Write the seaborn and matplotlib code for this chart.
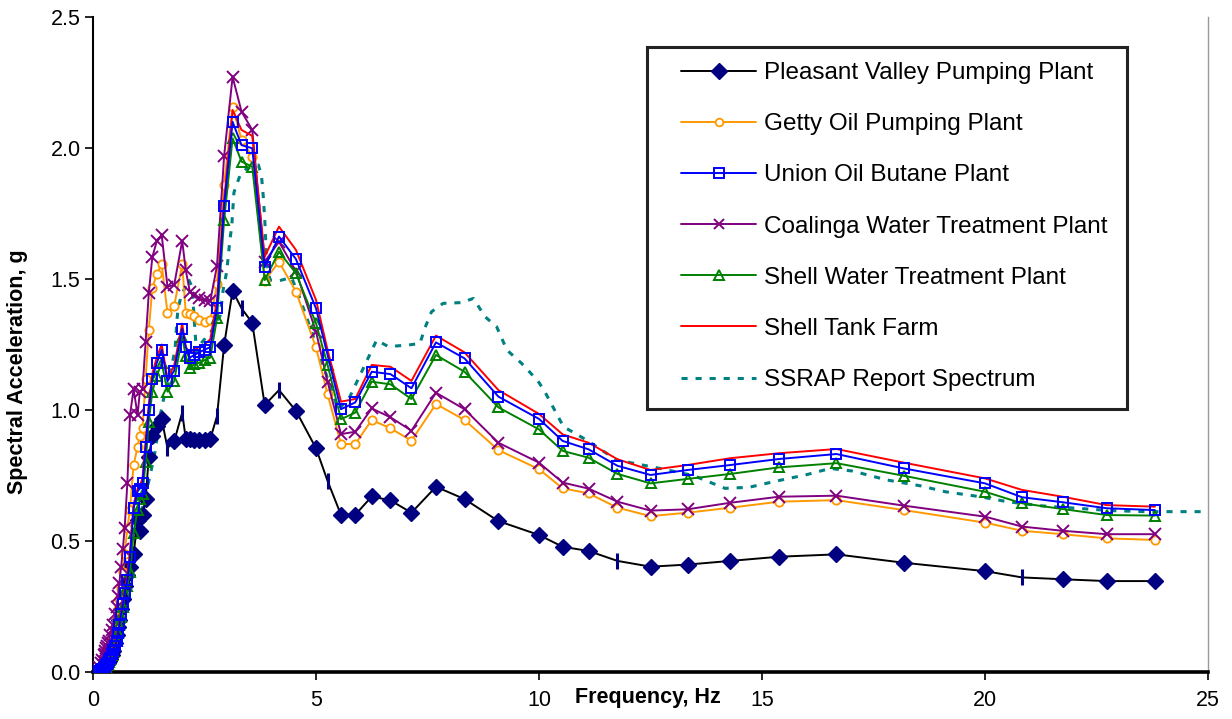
import matplotlib
matplotlib.use("Agg")
import matplotlib.pyplot as plt
import seaborn as sns
from matplotlib.lines import Line2D
from matplotlib.patches import Rectangle

# ---------------- data ----------------
freq = [0.10, 0.13, 0.17, 0.20, 0.25, 0.26, 0.28, 0.29, 0.31, 0.33,
        0.36, 0.38, 0.42, 0.45, 0.50, 0.53, 0.56, 0.59, 0.63, 0.67,
        0.71, 0.77, 0.83, 0.91, 1.00, 1.05, 1.11, 1.18, 1.25, 1.33,
        1.43, 1.54, 1.67, 1.82, 2.00, 2.08, 2.17, 2.27, 2.38, 2.50,
        2.63, 2.78, 2.94, 3.13, 3.33, 3.57, 3.85, 4.17, 4.55, 5.00,
        5.26, 5.56, 5.88, 6.25, 6.67, 7.14, 7.69, 8.33, 9.09, 10.00,
        10.53, 11.11, 11.76, 12.50, 13.33, 14.29, 15.38, 16.67, 18.18, 20.00,
        20.83, 21.74, 22.73, 23.81]

pleasant_valley = [0.005, 0.008, 0.010, 0.012, 0.018, 0.020, 0.023, 0.026, 0.030, 0.035,
                   0.042, 0.050, 0.065, 0.080, 0.110, 0.140, 0.170, 0.200, 0.240, 0.280,
                   0.330, 0.370, 0.400, 0.450, 0.580, 0.540, 0.600, 0.660, 0.820, 0.900,
                   0.940, 0.965, 0.855, 0.880, 0.990, 0.890, 0.890, 0.885, 0.885, 0.885,
                   0.890, 0.976, 1.248, 1.455, 1.388, 1.333, 1.019, 1.076, 0.997, 0.854,
                   0.729, 0.600, 0.600, 0.670, 0.655, 0.608, 0.707, 0.660, 0.576, 0.523,
                   0.478, 0.462, 0.424, 0.402, 0.410, 0.424, 0.440, 0.449, 0.417, 0.385,
                   0.361, 0.354, 0.347, 0.347]

getty_oil = [0.005, 0.010, 0.015, 0.020, 0.030, 0.035, 0.040, 0.045, 0.050, 0.060,
             0.080, 0.090, 0.110, 0.130, 0.170, 0.200, 0.240, 0.280, 0.320, 0.380,
             0.450, 0.550, 0.620, 0.790, 0.860, 0.900, 0.930, 1.120, 1.305, 1.464,
             1.519, 1.557, 1.371, 1.397, 1.557, 1.370, 1.365, 1.360, 1.345, 1.335,
             1.345, 1.480, 1.860, 2.158, 2.031, 1.967, 1.494, 1.566, 1.452, 1.239,
             1.060, 0.870, 0.870, 0.962, 0.930, 0.883, 1.023, 0.962, 0.847, 0.774,
             0.701, 0.682, 0.627, 0.595, 0.608, 0.627, 0.650, 0.656, 0.618, 0.570,
             0.539, 0.526, 0.510, 0.504]

union_oil = [0.003, 0.005, 0.008, 0.010, 0.015, 0.018, 0.020, 0.025, 0.030, 0.035,
             0.045, 0.055, 0.070, 0.085, 0.100, 0.120, 0.150, 0.180, 0.220, 0.260,
             0.300, 0.350, 0.440, 0.625, 0.690, 0.700, 0.720, 0.860, 1.000, 1.120,
             1.180, 1.230, 1.110, 1.150, 1.310, 1.240, 1.200, 1.210, 1.220, 1.230,
             1.240, 1.390, 1.780, 2.100, 2.011, 1.999, 1.545, 1.662, 1.576, 1.388,
             1.210, 1.003, 1.029, 1.146, 1.137, 1.083, 1.258, 1.197, 1.051, 0.966,
             0.882, 0.850, 0.787, 0.752, 0.771, 0.790, 0.813, 0.832, 0.777, 0.720,
             0.667, 0.648, 0.625, 0.618]

coalinga = [0.010, 0.020, 0.035, 0.045, 0.065, 0.070, 0.080, 0.090, 0.100, 0.110,
            0.120, 0.140, 0.160, 0.180, 0.220, 0.250, 0.290, 0.340, 0.400, 0.470,
            0.550, 0.720, 0.980, 1.080, 0.980, 1.070, 1.080, 1.260, 1.445, 1.583,
            1.645, 1.668, 1.471, 1.477, 1.645, 1.534, 1.452, 1.439, 1.426, 1.420,
            1.417, 1.550, 1.970, 2.272, 2.139, 2.069, 1.566, 1.642, 1.530, 1.299,
            1.108, 0.908, 0.917, 1.006, 0.972, 0.921, 1.066, 1.003, 0.875, 0.799,
            0.723, 0.700, 0.650, 0.616, 0.621, 0.646, 0.669, 0.673, 0.635, 0.593,
            0.555, 0.539, 0.526, 0.526]

shell_water = [0.002, 0.004, 0.006, 0.008, 0.010, 0.012, 0.015, 0.020, 0.025, 0.030,
               0.040, 0.050, 0.065, 0.080, 0.100, 0.120, 0.150, 0.180, 0.210, 0.250,
               0.300, 0.330, 0.380, 0.530, 0.620, 0.660, 0.680, 0.800, 0.955, 1.070,
               1.130, 1.180, 1.070, 1.110, 1.280, 1.206, 1.160, 1.175, 1.180, 1.190,
               1.200, 1.350, 1.725, 2.037, 1.948, 1.929, 1.496, 1.604, 1.522, 1.331,
               1.172, 0.965, 0.990, 1.108, 1.098, 1.042, 1.210, 1.146, 1.010, 0.926,
               0.844, 0.818, 0.756, 0.720, 0.737, 0.756, 0.781, 0.797, 0.749, 0.688,
               0.644, 0.622, 0.599, 0.597]

shell_tank = [0.003, 0.005, 0.008, 0.010, 0.015, 0.018, 0.020, 0.025, 0.030, 0.035,
              0.045, 0.055, 0.070, 0.090, 0.110, 0.130, 0.160, 0.190, 0.230, 0.270,
              0.310, 0.370, 0.460, 0.640, 0.700, 0.710, 0.740, 0.880, 1.020, 1.140,
              1.200, 1.250, 1.120, 1.170, 1.330, 1.240, 1.220, 1.230, 1.240, 1.250,
              1.270, 1.420, 1.800, 2.145, 2.069, 2.046, 1.585, 1.700, 1.611, 1.420,
              1.229, 1.032, 1.042, 1.172, 1.165, 1.111, 1.284, 1.220, 1.076, 0.985,
              0.907, 0.875, 0.812, 0.771, 0.790, 0.816, 0.835, 0.851, 0.799, 0.739,
              0.695, 0.669, 0.637, 0.631]

ssrap_freq = [0.10, 0.30, 0.50, 0.70, 0.90, 1.10, 1.28, 1.39, 1.52, 1.58,
              1.72, 1.84, 1.88, 1.91, 1.97, 2.14, 2.22, 2.28, 2.32, 2.45,
              2.65, 2.85, 2.92, 3.00, 3.07, 3.11, 3.16, 3.22, 3.30, 3.45,
              3.71, 3.78, 3.82, 3.86, 3.89, 3.97, 4.19, 4.45, 4.60, 4.90,
              5.20, 5.50, 5.76, 5.99, 6.36, 6.62, 7.07, 7.33, 7.44, 7.59,
              7.85, 8.27, 8.53, 8.79, 9.05, 9.28, 9.61, 9.98, 10.13, 10.55,
              11.07, 11.74, 12.11, 12.71, 13.46, 14.17, 14.71, 15.25, 16.02, 16.53,
              17.03, 17.80, 18.57, 19.11, 19.89, 20.50, 21.28, 22.05, 22.83, 23.60,
              25.00]
ssrap_acc = [0.000, 0.030, 0.100, 0.280, 0.480, 0.620, 0.750, 0.840, 0.990, 1.040,
             1.130, 1.230, 1.340, 1.390, 1.430, 1.500, 1.470, 1.320, 1.220, 1.260,
             1.300, 1.360, 1.460, 1.530, 1.650, 1.700, 1.830, 1.860, 1.897, 1.922,
             1.935, 1.890, 1.810, 1.700, 1.570, 1.496, 1.494, 1.506, 1.445, 1.300,
             1.150, 1.000, 1.051, 1.134, 1.267, 1.242, 1.248, 1.254, 1.312, 1.375,
             1.407, 1.410, 1.426, 1.356, 1.318, 1.229, 1.178, 1.110, 1.070, 0.936,
             0.885, 0.809, 0.797, 0.777, 0.750, 0.701, 0.705, 0.726, 0.754, 0.777,
             0.767, 0.733, 0.710, 0.688, 0.669, 0.650, 0.634, 0.625, 0.616, 0.612,
             0.612]

pv_tick_freqs = [1.67, 2.00, 2.78, 3.33, 4.17, 5.26, 11.76, 20.83]

series_labels = ["Pleasant Valley Pumping Plant", "Getty Oil Pumping Plant",
                 "Union Oil Butane Plant", "Coalinga Water Treatment Plant",
                 "Shell Water Treatment Plant", "Shell Tank Farm",
                 "SSRAP Report Spectrum"]
x_ticks = [0, 5, 10, 15, 20, 25]
y_ticks = [0.0, 0.5, 1.0, 1.5, 2.0, 2.5]

# ---------------- style ----------------
sns.set_theme(style="white")
plt.rcParams["font.family"] = ["Liberation Sans", "DejaVu Sans"]

W, H = 1232, 719
fig = plt.figure(figsize=(W / 100, H / 100), dpi=100)
L, R, B, T = 93, 1208, 672, 17
ax = fig.add_axes([L / W, 1 - B / H, (R - L) / W, (B - T) / H])

navy = "#000080"
orange = "#FF9900"
blue = "#0000FF"
purple = "#800080"
green = "#008000"
red = "#FF0000"
teal = "#008080"
lw = 1.4

# SSRAP report spectrum
sns.lineplot(x=ssrap_freq, y=ssrap_acc, ax=ax, color=teal, linewidth=2.2,
             dashes=False, linestyle=(0, (2, 2.6)), estimator=None, sort=False,
             legend=False, zorder=2)

# Pleasant Valley: diamonds except the points drawn as short bars
diamond_idx = [i for i, f in enumerate(freq) if f not in pv_tick_freqs]
tick_idx = [i for i, f in enumerate(freq) if f in pv_tick_freqs]
sns.lineplot(x=freq, y=pleasant_valley, ax=ax, color="black", linewidth=lw,
             marker="D", markersize=8.5, markerfacecolor=navy,
             markeredgecolor=navy, markeredgewidth=1, markevery=diamond_idx,
             estimator=None, sort=False, legend=False, zorder=3)
ax.plot([freq[i] for i in tick_idx], [pleasant_valley[i] for i in tick_idx],
        linestyle="none", marker="|", markersize=12, markeredgewidth=2.2,
        color=navy, zorder=4)

# Getty Oil
sns.lineplot(x=freq, y=getty_oil, ax=ax, color=orange, linewidth=lw,
             marker="o", markersize=6, markerfacecolor="white",
             markeredgecolor=orange, markeredgewidth=1.3,
             estimator=None, sort=False, legend=False, zorder=3)
# Union Oil
sns.lineplot(x=freq, y=union_oil, ax=ax, color=blue, linewidth=lw,
             marker="s", markersize=7, markerfacecolor="none",
             markeredgecolor=blue, markeredgewidth=1.4,
             estimator=None, sort=False, legend=False, zorder=4)
# Coalinga
sns.lineplot(x=freq, y=coalinga, ax=ax, color=purple, linewidth=lw,
             marker="x", markersize=8, markeredgecolor=purple,
             markeredgewidth=1.4,
             estimator=None, sort=False, legend=False, zorder=3)
# Shell Water Treatment
sns.lineplot(x=freq, y=shell_water, ax=ax, color=green, linewidth=lw,
             marker="^", markersize=7.5, markerfacecolor="none",
             markeredgecolor=green, markeredgewidth=1.4,
             estimator=None, sort=False, legend=False, zorder=3)
# Shell Tank Farm
sns.lineplot(x=freq, y=shell_tank, ax=ax, color=red, linewidth=lw,
             estimator=None, sort=False, legend=False, zorder=3)

# ---------------- axes ----------------
ax.set_xlim(0, 25)
ax.set_ylim(0, 2.5)
ax.set_xticks(x_ticks)
ax.set_xticklabels([str(t) for t in x_ticks])
ax.set_yticks(y_ticks)
ax.set_yticklabels([f"{t:.1f}" for t in y_ticks])
ax.tick_params(axis="both", which="both", direction="out", length=6,
               width=1.2, color="black", labelsize=15.5, labelcolor="black",
               bottom=True, left=True)
ax.tick_params(axis="y", pad=3)
ax.tick_params(axis="x", pad=7)
ax.grid(False)
ax.spines["top"].set_visible(False)
ax.spines["right"].set_color("#999999")
ax.spines["right"].set_linewidth(1.0)
ax.spines["left"].set_color("black")
ax.spines["left"].set_linewidth(1.5)
ax.spines["bottom"].set_color("black")
ax.spines["bottom"].set_linewidth(2.6)

ax.set_xlabel("Frequency, Hz", fontsize=15.5, fontweight="bold", color="black")
ax.xaxis.set_label_coords((648 - L) / (R - L), (B - 697) / (B - T))
ax.xaxis.label.set_va("center")
ax.set_ylabel("Spectral Acceleration, g", fontsize=15.5, fontweight="bold",
              color="black")
ax.yaxis.set_label_coords((18 - L) / (R - L), (B - 372) / (B - T))
ax.yaxis.label.set_va("center")

# ---------------- legend ----------------
box_l, box_r, box_t, box_b = 647, 1127, 47, 409
ax.add_patch(Rectangle(((box_l - L) / (R - L), (B - box_b) / (B - T)),
                       (box_r - box_l) / (R - L), (box_b - box_t) / (B - T),
                       transform=ax.transAxes, facecolor="white",
                       edgecolor="#222222", linewidth=2.2, zorder=10,
                       clip_on=False))
handles = [
    Line2D([], [], color="black", lw=lw, marker="D", markersize=8.5,
           markerfacecolor=navy, markeredgecolor=navy),
    Line2D([], [], color=orange, lw=lw, marker="o", markersize=5.5,
           markerfacecolor="white", markeredgecolor=orange, markeredgewidth=1.3),
    Line2D([], [], color=blue, lw=lw, marker="s", markersize=6.5,
           markerfacecolor="none", markeredgecolor=blue, markeredgewidth=1.4),
    Line2D([], [], color=purple, lw=lw, marker="x", markersize=7,
           markeredgecolor=purple, markeredgewidth=1.4),
    Line2D([], [], color=green, lw=lw, marker="^", markersize=7,
           markerfacecolor="none", markeredgecolor=green, markeredgewidth=1.4),
    Line2D([], [], color=red, lw=lw),
    Line2D([], [], color=teal, lw=2.2, linestyle=(0, (2, 2.6))),
]
leg = ax.legend(handles, series_labels, loc="upper left",
                bbox_to_anchor=((681 - L) / (R - L), (B - 62) / (B - T)),
                frameon=False, fontsize=17.5, handlelength=3.1,
                handletextpad=0.3, labelspacing=1.2, borderpad=0,
                borderaxespad=0)
leg.set_zorder(11)
for txt in leg.get_texts():
    txt.set_color("black")

fig.savefig("out.png", dpi=100)
